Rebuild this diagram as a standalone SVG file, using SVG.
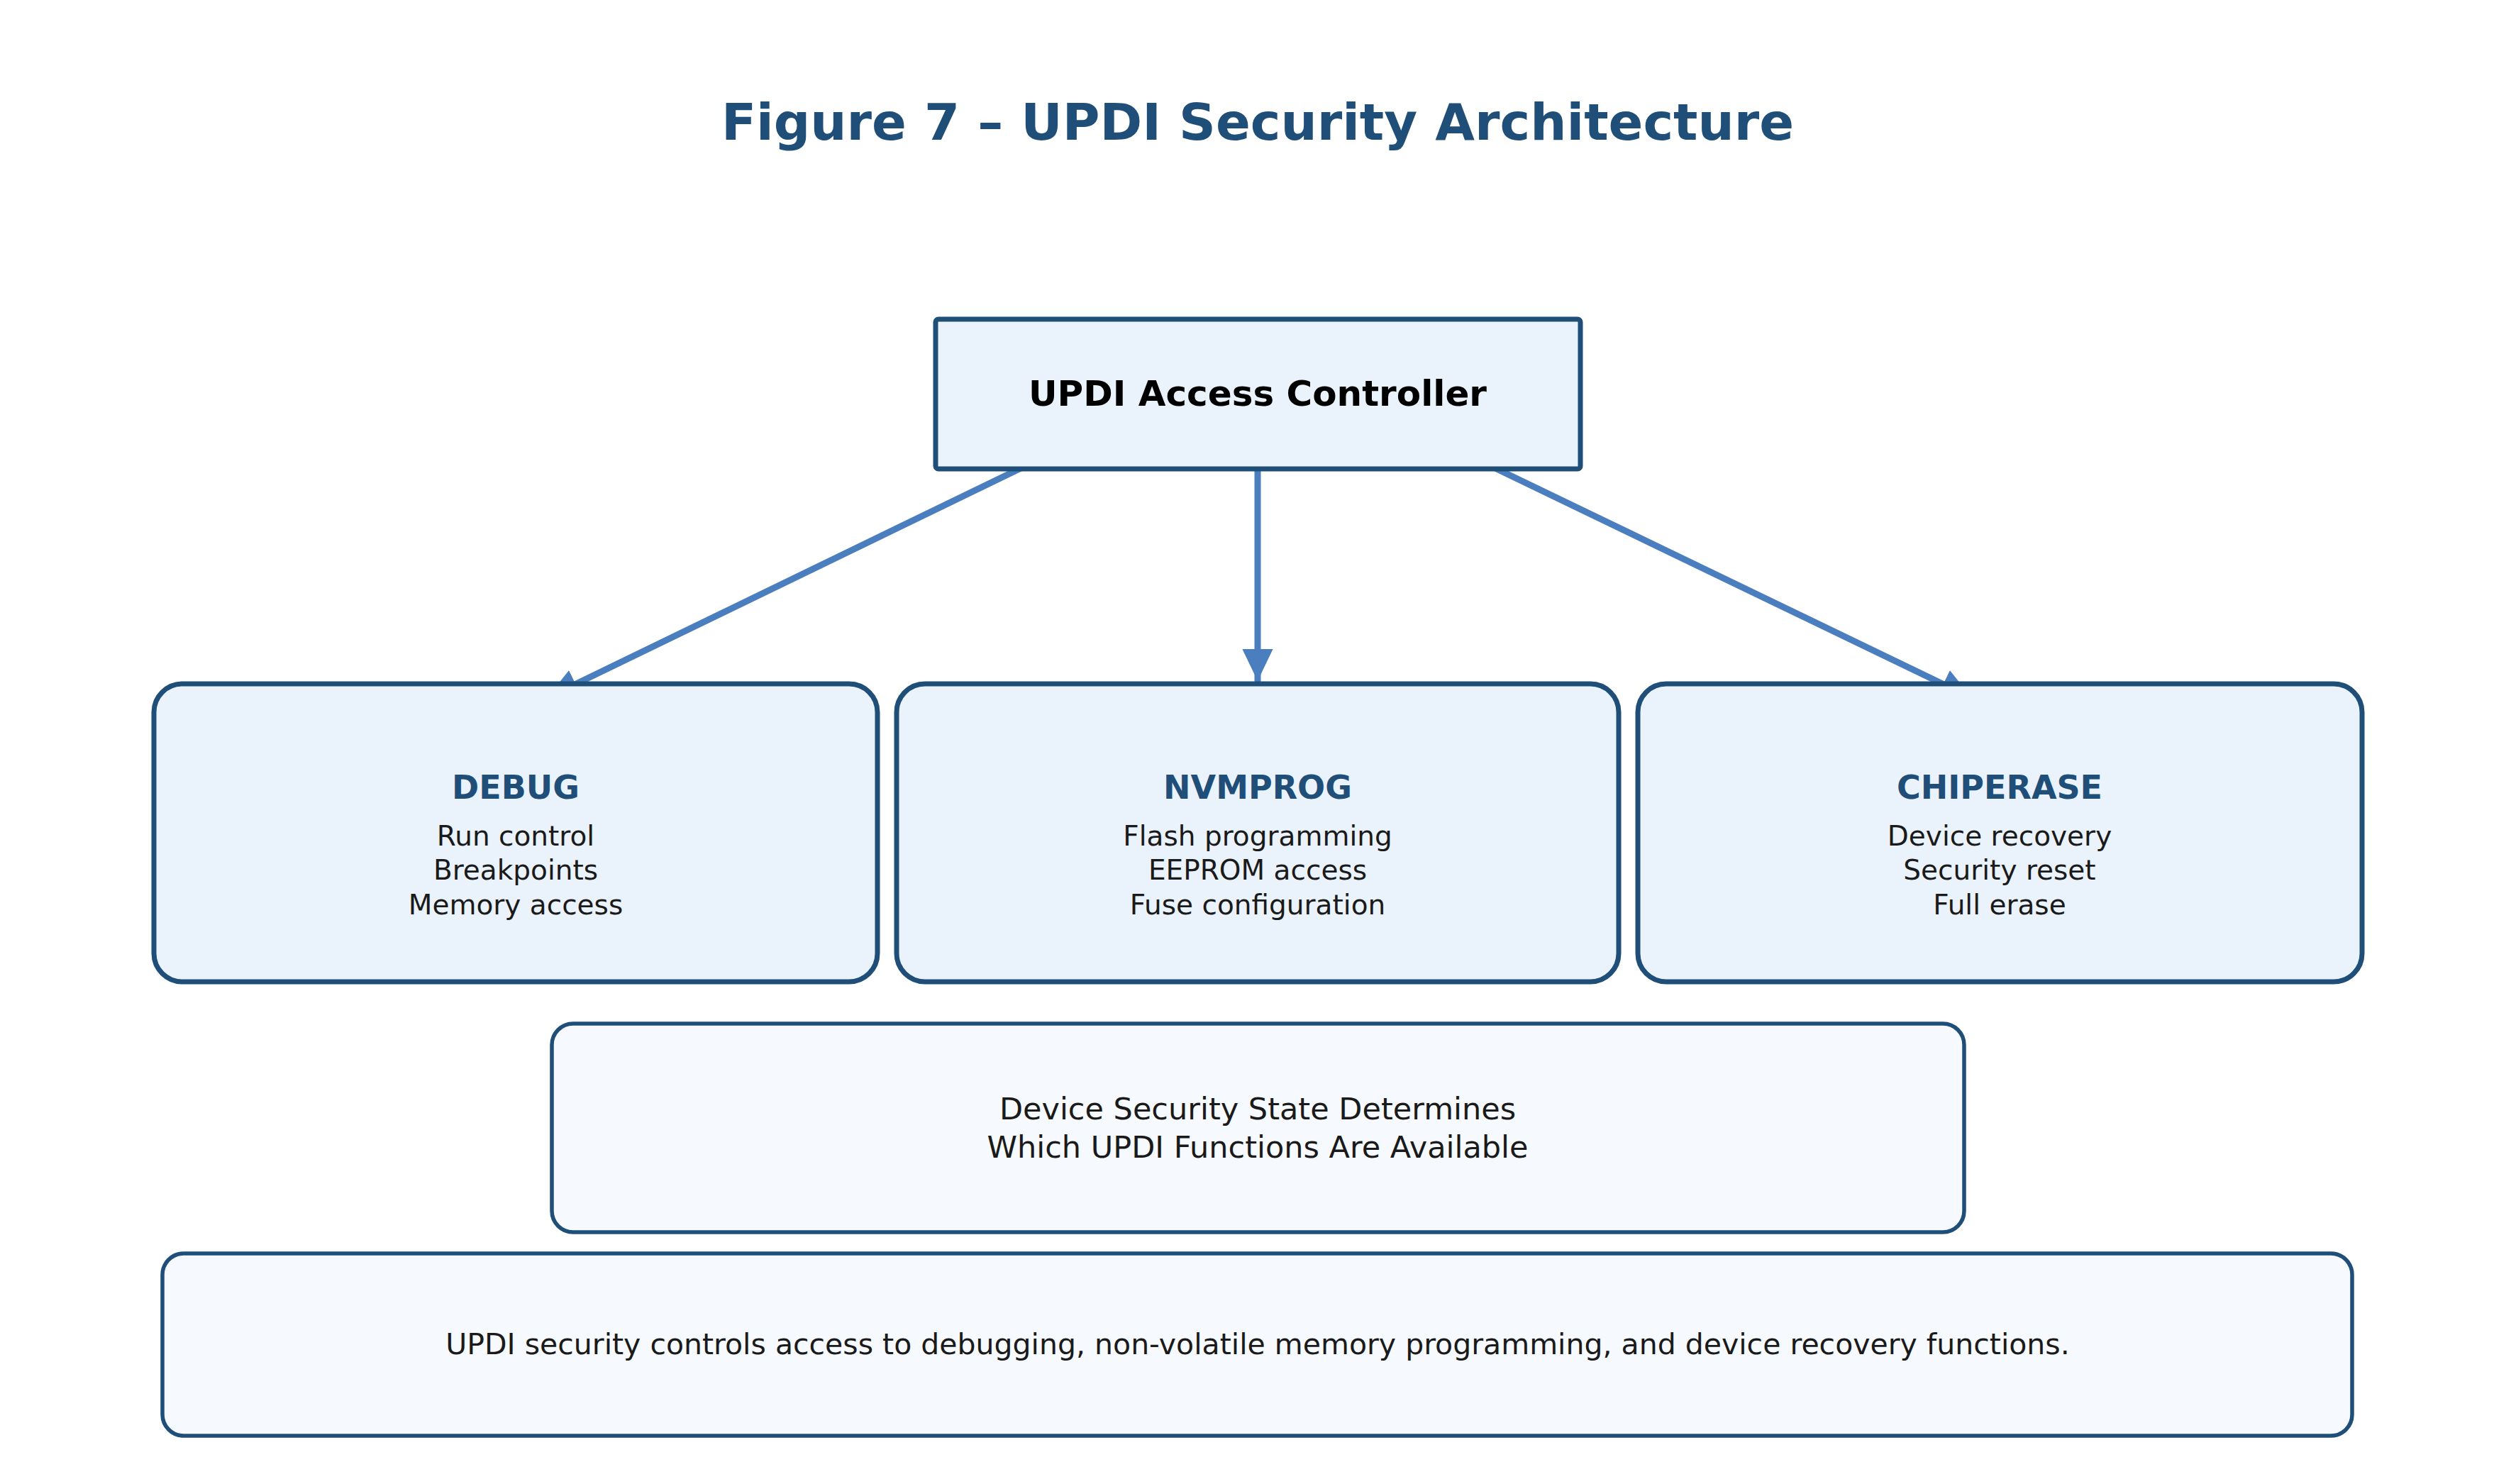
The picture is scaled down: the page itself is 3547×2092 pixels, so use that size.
<svg xmlns="http://www.w3.org/2000/svg" width="3547" height="2092" viewBox="0 0 3547 2092">
<style>
text{font-family:"DejaVu Sans","Noto Sans",sans-serif;text-anchor:middle}
.box{fill:#eaf2fb;stroke:#1f4e79;stroke-width:7}
.note{fill:#f6f9fd;stroke:#1f4e79;stroke-width:5.5}
.h{font-weight:bold;font-size:46px;fill:#1f4e79}
.t{font-size:39px;fill:#1a1a1a}
.c{stroke:#4a7ebf;stroke-width:9;fill:none;stroke-linecap:round}
</style>
<defs><marker id="a" markerWidth="6" markerHeight="6" refX="5" refY="3" orient="auto" markerUnits="strokeWidth"><path d="M0,0.6 L5,3 L0,5.4 Z" fill="#4a7ebf"/></marker></defs>
<rect width="3547" height="2092" fill="#fff"/>
<text x="1773" y="197" font-size="72" font-weight="bold" fill="#1f4e79">Figure 7 – UPDI Security Architecture</text>
<g id="connectors">
<line class="c" x1="1466" y1="647" x2="771" y2="984" marker-end="url(#a)"/>
<line class="c" x1="1773" y1="661" x2="1773" y2="960" marker-end="url(#a)"/>
<line class="c" x1="2081" y1="647" x2="2780" y2="984" marker-end="url(#a)"/>
</g>
<g id="controller"><rect class="box" x="1319" y="450" width="909" height="211" rx="4"/><text x="1773" y="572" font-size="50" font-weight="bold" fill="#000">UPDI Access Controller</text></g>
<g id="debug"><rect class="box" x="217" y="964" width="1020" height="420" rx="40"/><text class="h" x="727" y="1126">DEBUG</text><text class="t" x="727" y="1192">Run control</text><text class="t" x="727" y="1240">Breakpoints</text><text class="t" x="727" y="1289">Memory access</text></g>
<g id="nvmprog"><rect class="box" x="1264" y="964" width="1018" height="420" rx="40"/><text class="h" x="1773" y="1126">NVMPROG</text><text class="t" x="1773" y="1192">Flash programming</text><text class="t" x="1773" y="1240">EEPROM access</text><text class="t" x="1773" y="1289">Fuse configuration</text></g>
<g id="chiperase"><rect class="box" x="2309" y="964" width="1021" height="420" rx="40"/><text class="h" x="2819" y="1126">CHIPERASE</text><text class="t" x="2819" y="1192">Device recovery</text><text class="t" x="2819" y="1240">Security reset</text><text class="t" x="2819" y="1289">Full erase</text></g>
<g id="state"><rect class="note" x="778" y="1443" width="1991" height="294" rx="30"/><text x="1773" y="1578" font-size="43" fill="#1a1a1a">Device Security State Determines</text><text x="1773" y="1632" font-size="43" fill="#1a1a1a">Which UPDI Functions Are Available</text></g>
<g id="caption"><rect class="note" x="229" y="1767" width="3087" height="257" rx="30"/><text x="1773" y="1909" font-size="41" fill="#1a1a1a">UPDI security controls access to debugging, non-volatile memory programming, and device recovery functions.</text></g>
</svg>
